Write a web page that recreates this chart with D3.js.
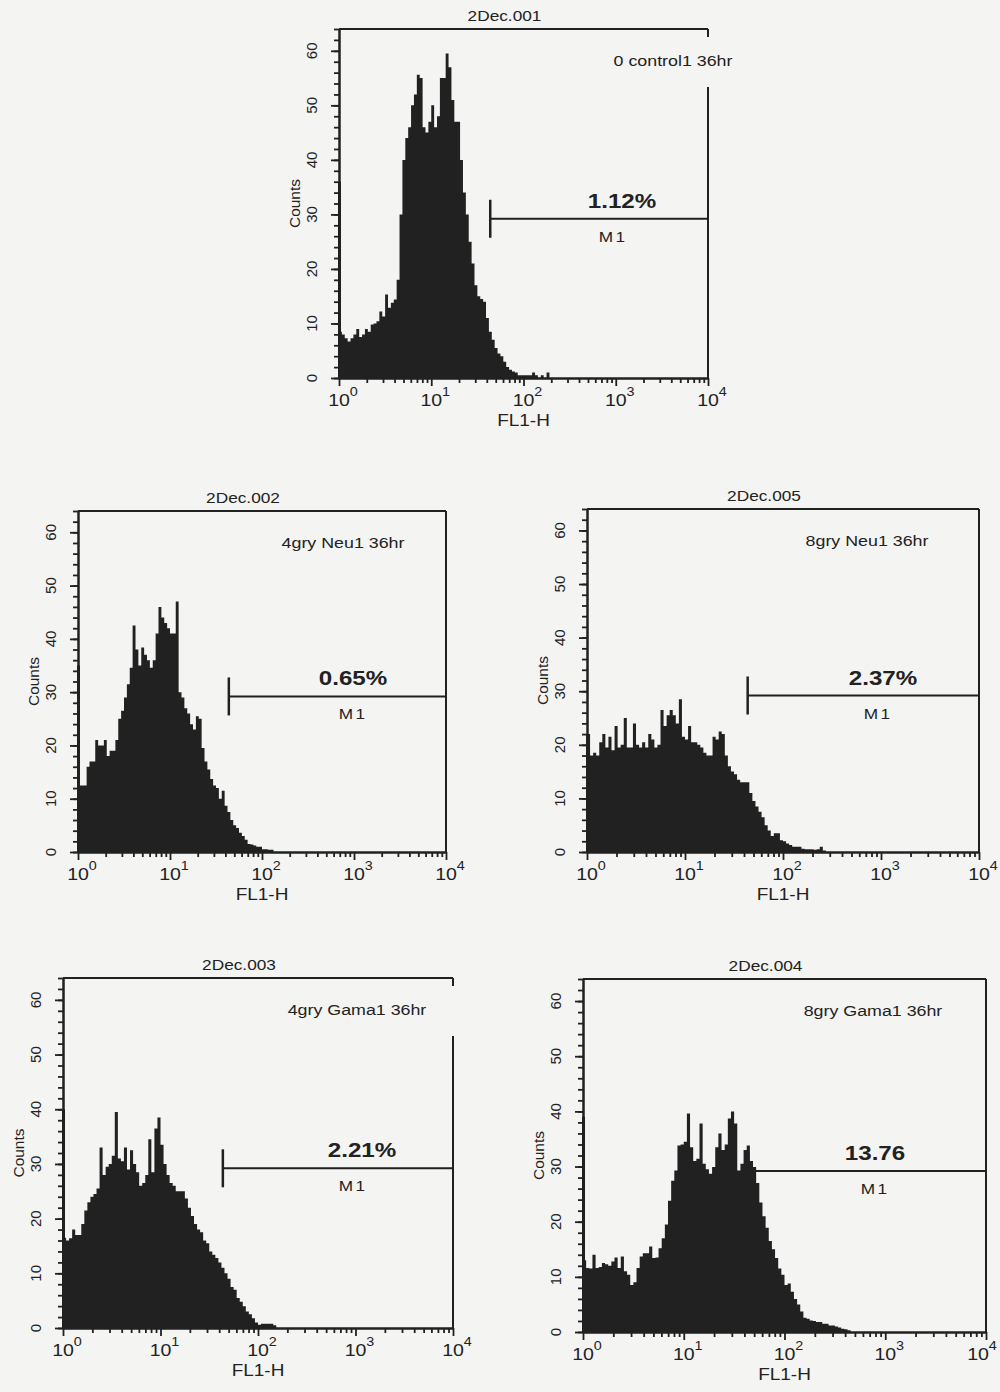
<!DOCTYPE html>
<html>
<head>
<meta charset="utf-8">
<script src="https://cdn.jsdelivr.net/npm/d3@7"></script>
<style>
  html, body { margin: 0; padding: 0; background: #f4f4f2; }
  svg { display: block; }
  text { font-family: 'Liberation Sans', Arial, Helvetica, sans-serif; fill: #222; }
</style>
</head>
<body>
<div id="chart"></div>
<script>
// FL1-H histograms, 36hr samples. Bins are 1/32 decade wide starting at 10^0.
var BINS_PER_DECADE = 32;

var fileNames = ['2Dec.001', '2Dec.002', '2Dec.005', '2Dec.003', '2Dec.004'];
var sampleNames = ['0 control1 36hr', '4gry Neu1 36hr', '8gry Neu1 36hr', '4gry Gama1 36hr', '8gry Gama1 36hr'];
var m1Results = ['1.12%', '0.65%', '2.37%', '2.21%', '13.76'];

// M1 gate (FL1-H range) and the count level the marker is drawn at
var m1Gate = [43.6, 10000];
var m1Level = 29.2;

var xDecades = [1, 10, 100, 1000, 10000];
var yTickValues = [0, 10, 20, 30, 40, 50, 60];
var yMax = 64;

// first (off-scale low) channel, drawn as a thin spike on the axis
var firstChannel = [36, 35, 22, 40, 39];

var counts001 = [8.5, 8, 7.3, 6.7, 7.3, 8, 9, 7.5, 8, 9,
  8.5, 9.8, 10, 10.4, 12.2, 11.3, 15.3, 12.9, 13.8, 14.4,
  18, 30, 40, 44, 46, 50, 52, 55.6, 55, 46,
  45, 47, 50, 46, 48, 55, 55, 59.5, 57, 51,
  47, 47, 40, 34, 30, 25, 21, 17, 15, 14.5,
  14, 11, 8.5, 7, 5.5, 4.5, 4, 3, 2, 1.5,
  1.2, 1, 0.5, 0.5, 0.5, 0.5, 0.5, 1, 0.5, 0,
  0.5, 0, 1];

var counts002 = [12.5, 12.5, 12.5, 16, 17, 17, 21, 20, 20, 21,
  18, 19, 19, 21, 25, 26.5, 29, 31.5, 34.6, 42.5,
  38, 35, 38.4, 37, 36, 34.6, 36, 41, 46, 44,
  43, 42, 41, 41, 47, 30, 29, 27, 26, 24,
  23, 25.5, 25, 19.5, 17, 15.5, 13.7, 12.5, 12, 10,
  11.5, 8.7, 7.5, 6, 5, 4.5, 3.6, 3, 2.3, 1.5,
  1.4, 1.2, 1, 1, 0.5, 0.5, 0.4, 0.4];

var counts005 = [22, 18, 18.5, 18, 20.5, 22, 19.5, 21.5, 19, 23.5,
  19.5, 20, 25, 19.5, 19.5, 24, 20, 19.5, 20.5, 19.5,
  22, 21, 19.5, 20, 26.5, 23.5, 25.5, 26.5, 25.5, 24,
  28.5, 21.5, 21, 23.5, 20.5, 20.5, 20, 19.5, 18.5, 18,
  18, 21.5, 21, 22.5, 22, 18, 16, 15, 14.5, 13.5,
  13, 13, 13, 11, 9.5, 8.5, 7.5, 6.5, 5, 4,
  3, 3.5, 3.5, 2.2, 2, 1.6, 1.3, 1, 1, 1,
  0.6, 0.5, 0.5, 0.5, 0.4, 0.5, 1, 0.3];

var counts003 = [16.5, 16, 16.4, 18, 17, 17, 19, 21.5, 23, 24,
  24.5, 25.5, 33, 28, 29.5, 30, 31.5, 39.5, 31, 30.5,
  33, 29, 32.5, 30, 28.5, 26, 26.5, 28, 34.5, 28.5,
  36.5, 38.5, 33.5, 30, 28, 26.5, 26, 25, 25, 25,
  23.7, 22, 20.5, 19, 18, 17.5, 16, 15.5, 14, 13.4,
  12.8, 12, 11, 10, 9, 7.5, 7, 5.5, 4.8, 4,
  3, 2.5, 1.8, 1, 0.6, 0.8, 0.8, 0.8, 0.8, 0.5];

var counts004 = [13, 11.6, 11.5, 14, 11.6, 11.8, 12.5, 12.3, 12, 12.8,
  13.5, 11.6, 13.7, 11, 10.4, 8.5, 9, 11.6, 13.7, 14.3,
  14.3, 15.5, 13.4, 13.5, 15.2, 17, 19.5, 23.8, 27.4, 29.3,
  33.8, 34, 34.5, 39.6, 33.5, 31, 31.4, 37.8, 30.5, 29.5,
  28.7, 29.9, 33.5, 36, 33, 34, 38.7, 40, 37.8, 29.3,
  30.5, 33, 33.8, 31, 29.9, 27, 23.5, 21, 18.9, 16.5,
  15, 13.4, 11.5, 10.4, 8.5, 8.8, 7.3, 6, 5, 3.7,
  2.6, 2.4, 2.1, 2, 1.8, 1.8, 1.5, 1.5, 1.2, 1.2,
  1, 0.8, 0.6, 0.5, 0.3];

var panelCounts = [counts001, counts002, counts005, counts003, counts004];

// page layout of each plot box (scanned figure, boxes are not all equal)
var panelBoxes = [
  { left: 339, top: 29,  right: 708, bottom: 378,  labelX: 673, pctX: 622, m1X: 613, rightGap: true },
  { left: 78,  top: 511, right: 446, bottom: 852,  labelX: 343, pctX: 353, m1X: 353 },
  { left: 587, top: 509, right: 979, bottom: 852,  labelX: 867, pctX: 883, m1X: 878 },
  { left: 63,  top: 978, right: 453, bottom: 1328, labelX: 357, pctX: 362, m1X: 353, rightGap: true },
  { left: 583, top: 979, right: 986, bottom: 1332, labelX: 873, pctX: 875, m1X: 875, lastLabelDx: -8 }
];

var INK = '#212121';
var STRETCH = 1.15;   // the scan is a little wider than tall

var svg = d3.select('#chart').append('svg')
  .attr('width', 1000)
  .attr('height', 1392);

function wideText(parent, x, y, str, size, weight) {
  return parent.append('text')
    .attr('transform', 'translate(' + x + ',' + y + ') scale(' + STRETCH + ',1)')
    .attr('text-anchor', 'middle')
    .attr('font-size', size + 'px')
    .attr('font-weight', weight || 'normal')
    .text(str);
}

function binEdge(i) { return Math.pow(10, i / BINS_PER_DECADE); }

function drawPanel(box, counts, lowCount, fileName, sampleName, result) {
  var x = d3.scaleLog().domain([1, 10000]).range([box.left, box.right]);
  var y = d3.scaleLinear().domain([0, yMax]).range([box.bottom, box.top]);
  var g = svg.append('g');

  // histogram as one stepped area (no seams between bins)
  var steps = counts.map(function (v, i) { return { lo: binEdge(i), v: v }; });
  steps.push({ lo: binEdge(counts.length), v: 0 });
  var area = d3.area()
    .x(function (d) { return x(d.lo); })
    .y0(box.bottom)
    .y1(function (d) { return y(d.v); })
    .curve(d3.curveStepAfter);
  g.append('path')
    .datum(steps)
    .attr('d', area)
    .attr('fill', INK);

  // first channel spike hugging the axis
  g.append('rect')
    .attr('x', x(1) - 1)
    .attr('y', y(lowCount))
    .attr('width', 3)
    .attr('height', box.bottom - y(lowCount))
    .attr('fill', INK);

  // y axis: minor ticks every 2, longer ones every 10
  var yAxisG = g.append('g').attr('transform', 'translate(' + box.left + ',0)');
  yAxisG.append('g').call(d3.axisLeft(y).tickValues(d3.range(0, yMax + 1, 2)).tickSize(5).tickSizeOuter(0).tickFormat(''));
  yAxisG.append('g').call(d3.axisLeft(y).tickValues(yTickValues).tickSize(8).tickSizeOuter(0).tickFormat(''));

  // x axis: log minor ticks and decade ticks
  var minorX = [];
  xDecades.slice(0, -1).forEach(function (d) {
    for (var k = 2; k <= 9; k++) minorX.push(d * k);
  });
  var xAxisG = g.append('g').attr('transform', 'translate(0,' + box.bottom + ')');
  xAxisG.append('g').call(d3.axisBottom(x).tickValues(minorX).tickSize(5).tickSizeOuter(0).tickFormat(''));
  xAxisG.append('g').call(d3.axisBottom(x).tickValues(xDecades).tickSize(8).tickSizeOuter(0).tickFormat(''));

  g.selectAll('.domain').attr('stroke', INK).attr('stroke-width', 2);
  g.selectAll('.tick line').attr('stroke', INK).attr('stroke-width', 1.8);

  // frame: top and right edges
  g.append('line')
    .attr('x1', box.left).attr('x2', box.right)
    .attr('y1', box.top).attr('y2', box.top)
    .attr('stroke', INK).attr('stroke-width', 2);
  var rightSegs = box.rightGap
    ? [[box.top, box.top + 8], [box.top + 58, box.bottom]]
    : [[box.top, box.bottom]];
  rightSegs.forEach(function (s) {
    g.append('line')
      .attr('x1', box.right).attr('x2', box.right)
      .attr('y1', s[0]).attr('y2', s[1])
      .attr('stroke', INK).attr('stroke-width', 2);
  });

  // y tick labels (rotated)
  yTickValues.forEach(function (t) {
    g.append('text')
      .attr('transform', 'translate(' + (box.left - 22) + ',' + y(t) + ') rotate(-90)')
      .attr('text-anchor', 'middle')
      .attr('font-size', '15px')
      .text(t);
  });
  g.append('text')
    .attr('transform', 'translate(' + (box.left - 39) + ',' + ((box.top + box.bottom) / 2) + ') rotate(-90)')
    .attr('text-anchor', 'middle')
    .attr('font-size', '15.5px')
    .text('Counts');

  // x tick labels 10^n
  xDecades.forEach(function (d, i) {
    var dx = (i === xDecades.length - 1 && box.lastLabelDx) ? box.lastLabelDx : 0;
    var t = wideText(g, x(d) + 4 + dx, box.bottom + 28, '', 17);
    t.append('tspan').text('10');
    t.append('tspan').attr('font-size', '12.5px').attr('dy', -10).text(i);
  });
  wideText(g, (box.left + box.right) / 2, box.bottom + 48, 'FL1-H', 16.5);

  // title and sample name
  wideText(g, (box.left + box.right) / 2 - 19, box.top - 8, fileName, 15);
  wideText(g, box.labelX, box.top + 37, sampleName, 15.5);

  // M1 marker
  var my = y(m1Level);
  g.append('line')
    .attr('x1', x(m1Gate[0])).attr('x2', x(m1Gate[1]))
    .attr('y1', my).attr('y2', my)
    .attr('stroke', INK).attr('stroke-width', 2);
  g.append('line')
    .attr('x1', x(m1Gate[0])).attr('x2', x(m1Gate[0]))
    .attr('y1', my - 19).attr('y2', my + 19)
    .attr('stroke', INK).attr('stroke-width', 2.5);
  wideText(g, box.pctX, my - 11, result, 21, 'bold');
  wideText(g, box.m1X, my + 23, 'M1', 15).attr('letter-spacing', '2px');
}

panelBoxes.forEach(function (box, k) {
  drawPanel(box, panelCounts[k], firstChannel[k], fileNames[k], sampleNames[k], m1Results[k]);
});
</script>
</body>
</html>
